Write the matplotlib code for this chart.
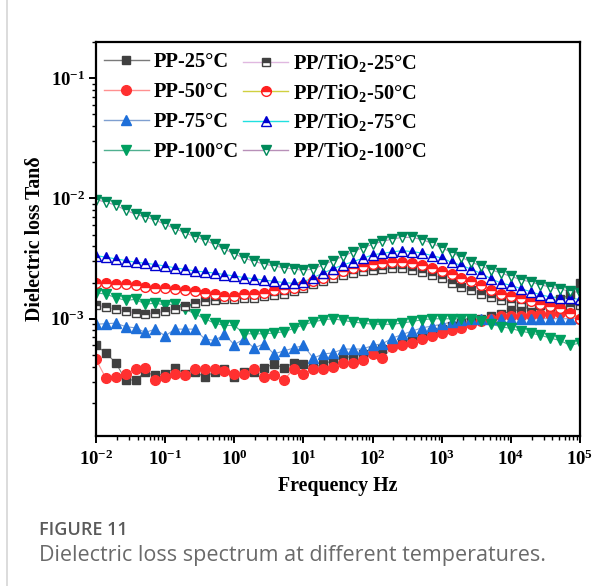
import matplotlib
matplotlib.use("Agg")
import matplotlib.pyplot as plt
from matplotlib.lines import Line2D
from matplotlib.ticker import LogLocator, NullFormatter

# frequency grid (Hz), 7 points per decade
freq = [0.01, 0.0139, 0.0193, 0.0268, 0.0373, 0.0518, 0.072,
        0.1, 0.139, 0.193, 0.268, 0.373, 0.518, 0.72,
        1, 1.39, 1.93, 2.68, 3.73, 5.18, 7.2,
        10, 13.9, 19.3, 26.8, 37.3, 51.8, 72,
        100, 139, 193, 268, 373, 518, 720,
        1000, 1390, 1930, 2680, 3730, 5180, 7200,
        10000, 13900, 19300, 26800, 37300, 51800, 72000, 100000]

# tan delta
pp_25 = [6.0e-4, 5.2e-4, 4.3e-4, 3.1e-4, 3.1e-4, 3.6e-4, 3.4e-4,
         3.5e-4, 3.9e-4, 3.5e-4, 3.6e-4, 3.3e-4, 3.6e-4, 3.8e-4,
         3.3e-4, 3.6e-4, 3.6e-4, 3.9e-4, 4.2e-4, 3.9e-4, 4.3e-4,
         4.2e-4, 3.9e-4, 4.2e-4, 4.5e-4, 4.7e-4, 4.9e-4, 5.1e-4,
         5.4e-4, 5.6e-4, 6.0e-4, 6.3e-4, 6.8e-4, 7.2e-4, 7.7e-4,
         8.2e-4, 8.7e-4, 9.2e-4, 9.6e-4, 1.0e-3, 1.05e-3, 1.1e-3,
         1.15e-3, 1.2e-3, 1.25e-3, 1.3e-3, 1.35e-3, 1.45e-3, 1.6e-3, 2.0e-3]
pp_50 = [4.6e-4, 3.2e-4, 3.3e-4, 3.5e-4, 3.8e-4, 3.9e-4, 3.1e-4,
         3.3e-4, 3.5e-4, 3.4e-4, 3.8e-4, 3.8e-4, 3.8e-4, 3.7e-4,
         3.5e-4, 3.5e-4, 3.8e-4, 3.3e-4, 3.4e-4, 3.1e-4, 3.8e-4,
         3.5e-4, 3.8e-4, 3.8e-4, 4.0e-4, 4.3e-4, 4.3e-4, 4.5e-4,
         5.1e-4, 4.7e-4, 5.8e-4, 6.0e-4, 6.3e-4, 6.8e-4, 7.2e-4,
         7.6e-4, 8.1e-4, 8.4e-4, 9.0e-4, 9.6e-4, 1.0e-3, 1.05e-3,
         1.05e-3, 1.05e-3, 1.08e-3, 1.1e-3, 1.1e-3, 1.12e-3, 1.15e-3, 1.0e-3]
pp_75 = [9.0e-4, 9.1e-4, 9.2e-4, 8.6e-4, 8.4e-4, 7.7e-4, 8.2e-4,
         7.2e-4, 8.2e-4, 8.2e-4, 8.2e-4, 6.8e-4, 6.6e-4, 7.4e-4,
         6.1e-4, 6.8e-4, 5.7e-4, 6.2e-4, 5.1e-4, 5.4e-4, 5.7e-4,
         6.0e-4, 4.7e-4, 5.1e-4, 5.2e-4, 5.6e-4, 5.6e-4, 5.6e-4,
         6.0e-4, 6.2e-4, 6.9e-4, 7.4e-4, 7.9e-4, 8.4e-4, 8.7e-4,
         9.0e-4, 9.4e-4, 9.7e-4, 9.9e-4, 1.0e-3, 1.0e-3, 1.0e-3,
         1.0e-3, 1.0e-3, 1.0e-3, 1.0e-3, 1.0e-3, 1.0e-3, 1.0e-3, 1.02e-3]
pp_100 = [1.65e-3, 1.6e-3, 1.5e-3, 1.42e-3, 1.45e-3, 1.32e-3, 1.35e-3,
          1.3e-3, 1.33e-3, 1.2e-3, 1.1e-3, 1.0e-3, 9.2e-4, 8.8e-4,
          8.8e-4, 7.5e-4, 7.5e-4, 7.5e-4, 7.6e-4, 7.8e-4, 8.3e-4,
          8.9e-4, 9.4e-4, 9.8e-4, 1.0e-3, 9.7e-4, 9.4e-4, 9.2e-4,
          9.0e-4, 9.0e-4, 9.0e-4, 9.2e-4, 9.5e-4, 9.8e-4, 1.0e-3,
          1.0e-3, 1.0e-3, 1.0e-3, 1.0e-3, 9.6e-4, 9.0e-4, 8.6e-4,
          8.3e-4, 7.9e-4, 7.6e-4, 7.3e-4, 6.9e-4, 6.6e-4, 6.0e-4, 6.3e-4]
tio2_25 = [1.3e-3, 1.25e-3, 1.2e-3, 1.16e-3, 1.12e-3, 1.1e-3, 1.12e-3,
           1.15e-3, 1.2e-3, 1.27e-3, 1.35e-3, 1.4e-3, 1.42e-3, 1.45e-3,
           1.46e-3, 1.48e-3, 1.5e-3, 1.54e-3, 1.58e-3, 1.62e-3, 1.7e-3,
           1.8e-3, 1.93e-3, 2.05e-3, 2.2e-3, 2.32e-3, 2.4e-3, 2.48e-3,
           2.55e-3, 2.6e-3, 2.63e-3, 2.63e-3, 2.55e-3, 2.45e-3, 2.32e-3,
           2.18e-3, 2.0e-3, 1.85e-3, 1.72e-3, 1.62e-3, 1.52e-3, 1.44e-3,
           1.38e-3, 1.35e-3, 1.32e-3, 1.29e-3, 1.27e-3, 1.25e-3, 1.27e-3, 1.3e-3]
tio2_50 = [2.0e-3, 1.98e-3, 1.95e-3, 1.93e-3, 1.9e-3, 1.85e-3, 1.8e-3,
           1.8e-3, 1.78e-3, 1.75e-3, 1.7e-3, 1.65e-3, 1.6e-3, 1.56e-3,
           1.55e-3, 1.62e-3, 1.6e-3, 1.65e-3, 1.72e-3, 1.78e-3, 1.8e-3,
           1.92e-3, 2.05e-3, 2.2e-3, 2.35e-3, 2.5e-3, 2.62e-3, 2.75e-3,
           2.85e-3, 2.92e-3, 2.95e-3, 2.95e-3, 2.9e-3, 2.8e-3, 2.65e-3,
           2.5e-3, 2.35e-3, 2.2e-3, 2.05e-3, 1.9e-3, 1.75e-3, 1.62e-3,
           1.55e-3, 1.48e-3, 1.4e-3, 1.32e-3, 1.27e-3, 1.22e-3, 1.12e-3, 1.0e-3]
tio2_75 = [3.35e-3, 3.25e-3, 3.15e-3, 3.05e-3, 2.95e-3, 2.9e-3, 2.82e-3,
           2.75e-3, 2.65e-3, 2.58e-3, 2.5e-3, 2.45e-3, 2.4e-3, 2.33e-3,
           2.27e-3, 2.2e-3, 2.15e-3, 2.1e-3, 2.05e-3, 2.0e-3, 1.97e-3,
           2.03e-3, 2.2e-3, 2.4e-3, 2.6e-3, 2.8e-3, 2.98e-3, 3.18e-3,
           3.4e-3, 3.5e-3, 3.6e-3, 3.68e-3, 3.62e-3, 3.52e-3, 3.35e-3,
           3.2e-3, 2.95e-3, 2.78e-3, 2.58e-3, 2.38e-3, 2.15e-3, 1.98e-3,
           1.9e-3, 1.78e-3, 1.68e-3, 1.58e-3, 1.52e-3, 1.5e-3, 1.48e-3, 1.45e-3]
tio2_100 = [9.8e-3, 9.3e-3, 8.8e-3, 8.0e-3, 7.4e-3, 7.0e-3, 6.6e-3,
            6.1e-3, 5.6e-3, 5.2e-3, 4.8e-3, 4.5e-3, 4.15e-3, 3.8e-3,
            3.45e-3, 3.2e-3, 3.0e-3, 2.85e-3, 2.75e-3, 2.65e-3, 2.6e-3,
            2.52e-3, 2.6e-3, 2.8e-3, 3.05e-3, 3.3e-3, 3.6e-3, 3.9e-3,
            4.15e-3, 4.4e-3, 4.6e-3, 4.75e-3, 4.75e-3, 4.55e-3, 4.25e-3,
            3.9e-3, 3.55e-3, 3.25e-3, 2.95e-3, 2.75e-3, 2.55e-3, 2.4e-3,
            2.25e-3, 2.12e-3, 2.02e-3, 1.92e-3, 1.83e-3, 1.76e-3, 1.7e-3, 1.65e-3]

labels = ["PP-25°C", "PP-50°C", "PP-75°C", "PP-100°C",
          "PP/TiO$_2$-25°C", "PP/TiO$_2$-50°C", "PP/TiO$_2$-75°C", "PP/TiO$_2$-100°C"]

plt.rcParams['font.family'] = ['Liberation Serif', 'DejaVu Serif']
plt.rcParams['font.weight'] = 'bold'
plt.rcParams['mathtext.fontset'] = 'custom'
plt.rcParams['mathtext.rm'] = 'Liberation Serif:bold'
plt.rcParams['mathtext.bf'] = 'Liberation Serif:bold'
plt.rcParams['mathtext.default'] = 'rm'
plt.rcParams['axes.unicode_minus'] = False

fig = plt.figure(figsize=(6.13, 5.86), dpi=100)
ax = fig.add_axes([96 / 613, 1 - 436 / 586, 484 / 613, 394 / 586])

# (values, marker, marker colour, line colour, half filled, size)
series = [
    (pp_25, 's', '#404040', '#7a7a7a', False, 6.0),
    (pp_50, 'o', '#ff3030', '#ff9090', False, 7.0),
    (pp_75, '^', '#1e6fd9', '#7f9fd0', False, 7.5),
    (pp_100, 'v', '#00a060', '#50b090', False, 7.5),
    (tio2_25, 's', '#404040', '#e0b8e0', True, 6.0),
    (tio2_50, 'o', '#ff2020', '#d0d040', True, 7.0),
    (tio2_75, '^', '#0000d0', '#20e0e0', True, 7.5),
    (tio2_100, 'v', '#008a5a', '#b890b8', True, 7.5),
]

handles = []
for (vals, mk, mc, lc, half, ms), lab in zip(series, labels):
    ax.plot(freq, vals, color=lc, lw=0.8, zorder=1)
    kw = dict(marker=mk, ms=ms, mec=mc, mew=1.0, ls='none', zorder=2)
    if half:
        kw.update(mfc=mc, fillstyle='top', markerfacecoloralt='white')
    else:
        kw.update(mfc=mc)
    ax.plot(freq, vals, **kw)
    h = Line2D([], [], color=lc, lw=1.0, **{k: v for k, v in kw.items() if k not in ('ls', 'zorder')})
    handles.append(h)

ax.set_xscale('log')
ax.set_yscale('log')
ax.set_xlim(1e-2, 1e5)
ax.set_ylim(1.06e-4, 0.2)
ax.set_yticks([1e-3, 1e-2, 1e-1])
ax.xaxis.set_major_locator(LogLocator(base=10, numticks=10))
ax.xaxis.set_minor_locator(LogLocator(base=10, subs=range(2, 10), numticks=20))
ax.yaxis.set_minor_locator(LogLocator(base=10, subs=range(2, 10), numticks=20))
ax.xaxis.set_minor_formatter(NullFormatter())
ax.yaxis.set_minor_formatter(NullFormatter())

for sp in ax.spines.values():
    sp.set_linewidth(1.6)
ax.tick_params(which='major', direction='out', length=5, width=1.4, labelsize=13.5, pad=3)
ax.tick_params(axis='x', which='major', pad=5)
ax.tick_params(which='minor', direction='out', length=3, width=1.0)
ax.tick_params(top=False, right=False, which='both')

ax.set_xlabel('Frequency Hz', fontsize=14.3, fontweight='bold', labelpad=5)
ax.set_ylabel('Dielectric loss Tanδ', fontsize=14.3, fontweight='bold')
ax.yaxis.set_label_coords(-0.105, 0.5)

# two legend columns drawn separately so the rows line up
leg_kw = dict(loc='upper left', frameon=False, fontsize=14.7, handlelength=2.2,
              handletextpad=0.25, borderpad=0.5, borderaxespad=0.0)
leg1 = ax.legend(handles=handles[:4], labels=labels[:4], bbox_to_anchor=(-0.005, 1.0),
                 labelspacing=0.49, **leg_kw)
ax.add_artist(leg1)
ax.legend(handles=handles[4:], labels=labels[4:], bbox_to_anchor=(0.283, 1.0),
          labelspacing=0.36, **leg_kw)

# figure caption block
fig.add_artist(Line2D([7 / 613, 7 / 613], [0, 1], color='#d6d6d6', lw=1.2,
                      transform=fig.transFigure))
fig.text(39 / 613, 1 - 530 / 586, 'FIGURE 11', family='Open Sans', weight='semibold',
         fontsize=13, color='#5a5a5a', va='center')
fig.text(39 / 613, 1 - 555 / 586, 'Dielectric loss spectrum at different temperatures.',
         family='Open Sans', weight='normal', fontsize=15.5, color='#6a6a6a', va='center')

fig.savefig('out.png', dpi=100)
